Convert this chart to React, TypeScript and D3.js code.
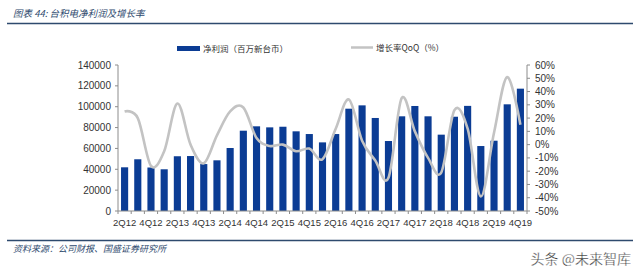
import React from 'react';
import * as d3 from 'd3';

const quarters = ['2Q12','3Q12','4Q12','1Q13','2Q13','3Q13','4Q13','1Q14','2Q14','3Q14','4Q14','1Q15','2Q15','3Q15','4Q15','1Q16','2Q16','3Q16','4Q16','1Q17','2Q17','3Q17','4Q17','1Q18','2Q18','3Q18','4Q18','1Q19','2Q19','3Q19','4Q19'];
const netProfit = [41900, 49600, 41700, 40000, 52500, 52700, 45000, 48600, 60400, 77000, 81200, 80200, 80800, 76400, 73800, 65800, 73800, 98100, 101300, 89200, 67100, 90800, 100700, 90800, 73200, 90400, 100800, 62300, 67400, 102300, 117300];
const qoq = [25, 20, -16, -5, 31, 0, -14, 7, 25, 28, 5, -1, 0, -5, -3, -11, 12, 34, 3, -12, -25, 35, 10, -10, -21, 26, 12, -39, 9, 51, 15];
const leftTicks = [0, 20000, 40000, 60000, 80000, 100000, 120000, 140000];
const rightTicks = [-50, -40, -30, -20, -10, 0, 10, 20, 30, 40, 50, 60];

const title = '图表 44: 台积电净利润及增长率';
const source = '资料来源：公司财报、国盛证券研究所';
const legendBar = '净利润（百万新台币）';
const legendLine = '增长率QoQ（%）';
const watermark = '头条 @未来智库';

const BLUE = '#0b3c94';
const GREY = '#c3c3c3';
const AXIS = '#8c8c8c';
const DARK = '#2e4a6e';
const NUM = '"Liberation Sans", Arial, sans-serif';
const CJK = '"Noto Sans CJK SC", sans-serif';

export default function App() {
  const left = 118, right = 527, top = 65, bottom = 211;
  const x = d3.scaleBand<string>().domain(quarters).range([left, right]).paddingInner(0.46).paddingOuter(0.23);
  const yL = d3.scaleLinear().domain([0, 140000]).range([bottom, top]);
  const yR = d3.scaleLinear().domain([-50, 60]).range([bottom, top]);
  const cx = (q: string) => (x(q) ?? 0) + x.bandwidth() / 2;
  const line = d3.line<number>()
    .x((_, i) => cx(quarters[i]))
    .y((d) => yR(d))
    .curve(d3.curveCardinal.tension(0));
  const step = (right - left) / quarters.length;

  return (
    <svg width={640} height={273} style={{ position: 'absolute', left: 0, top: 0, background: '#fff' }}>
      <text x={13} y={17} fontFamily={CJK} fontStyle="italic" fontSize={9.5} fill={DARK}>{title}</text>
      <line x1={7} x2={633} y1={23.5} y2={23.5} stroke={DARK} strokeWidth={1.6} />

      {/* legend */}
      <rect x={177} y={46} width={23} height={5} fill={BLUE} />
      <text x={203} y={51.5} fontFamily={CJK} fontSize={8.5} fill="#333">{legendBar}</text>
      <line x1={351} x2={373} y1={47.5} y2={47.5} stroke={GREY} strokeWidth={2.5} />
      <text x={376} y={51} fontFamily={CJK} fontSize={8.5} fill="#333">{legendLine}</text>

      {/* bars */}
      {netProfit.map((v, i) => (
        <rect key={quarters[i]} x={x(quarters[i])} y={yL(v)} width={x.bandwidth()} height={bottom - yL(v)} fill={BLUE} />
      ))}

      {/* line */}
      <path d={line(qoq) ?? ''} fill="none" stroke={GREY} strokeWidth={2.6} />

      {/* left axis */}
      <line x1={left} x2={left} y1={top} y2={bottom} stroke={AXIS} strokeWidth={1} />
      {leftTicks.map((t) => (
        <g key={t}>
          <line x1={left - 3} x2={left} y1={yL(t)} y2={yL(t)} stroke={AXIS} />
          <text x={111} y={yL(t) + 3.5} textAnchor="end" fontFamily={NUM} fontSize={10} fill="#333">{t}</text>
        </g>
      ))}

      {/* right axis */}
      <line x1={right} x2={right} y1={top} y2={bottom} stroke={AXIS} strokeWidth={1} />
      {rightTicks.map((t) => (
        <g key={t}>
          <line x1={right} x2={right + 3} y1={yR(t)} y2={yR(t)} stroke={AXIS} />
          <text x={535} y={yR(t) + 3.5} fontFamily={NUM} fontSize={10} fill="#333">{`${t}%`}</text>
        </g>
      ))}

      {/* bottom axis */}
      <line x1={left} x2={right} y1={bottom} y2={bottom} stroke={AXIS} strokeWidth={1} />
      {quarters.map((q, i) => (
        <line key={'t' + q} x1={left + i * step} x2={left + i * step} y1={bottom} y2={bottom + 3} stroke={AXIS} />
      ))}
      <line x1={right} x2={right} y1={bottom} y2={bottom + 3} stroke={AXIS} />
      {quarters.map((q, i) => (i % 2 === 0 ? (
        <text key={'l' + q} x={cx(q)} y={226} textAnchor="middle" fontFamily={NUM} fontSize={9.5} fill="#333">{q}</text>
      ) : null))}

      <line x1={7} x2={633} y1={240.5} y2={240.5} stroke={DARK} strokeWidth={1.6} />
      <text x={13} y={252} fontFamily={CJK} fontStyle="italic" fontSize={9} fill={DARK}>{source}</text>
      <text x={631} y={264} textAnchor="end" fontFamily={CJK} fontSize={14} fill="#333" stroke="#fff" strokeWidth={0.3}>{watermark}</text>
    </svg>
  );
}
